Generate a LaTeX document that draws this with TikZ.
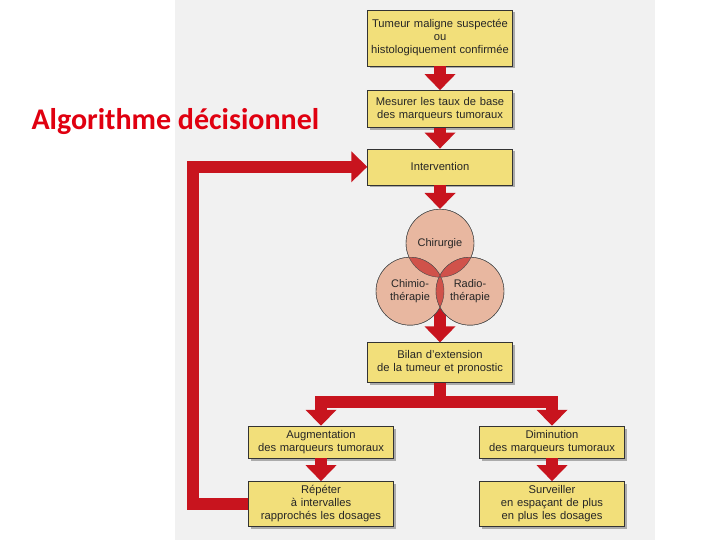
\documentclass[tikz,border=0pt]{standalone}
\usepackage{fontspec}
\setmainfont{Liberation Sans}
\newfontfamily\titlefont{Carlito}
\usetikzlibrary{
  arrows.meta,
  positioning,
  calc,
  shadows,
  backgrounds
}
\definecolor{alred}{HTML}{C8141E}
\definecolor{alyellow}{HTML}{F2DF7A}
\definecolor{alpeach}{HTML}{E8B7A0}
\definecolor{allens}{HTML}{D0524A}
\definecolor{alscan}{HTML}{F1F1F1}
\definecolor{altitle}{HTML}{E00010}

\begin{document}
\begin{tikzpicture}[
  x=1pt, y=-1pt,
  node distance=24pt,
  box/.style={draw=black!80, fill=alyellow, minimum width=145pt, text width=143pt,
    align=center, inner sep=1pt, text=black!85, font=\fontsize{11.2}{13}\selectfont,
    drop shadow={shadow xshift=2.5pt, shadow yshift=-2.5pt, fill=black!60}},
  venn/.style={circle, draw=black!70, fill=alpeach, minimum size=68pt, inner sep=0pt,
    align=center, text=black!85, font=\fontsize{11}{13}\selectfont},
  bar/.style={draw=alred, line width=12pt},
  flow/.style={bar, -{Triangle[width=30pt,length=16pt]}}
]
  \useasboundingbox (0,0) rectangle (720,540);
  \begin{scope}[on background layer]
    \fill[alscan] (175,0) rectangle (655,540);
  \end{scope}

  % Title
  \node[anchor=west, font=\titlefont\bfseries\fontsize{30}{36}\selectfont, text=altitle]
    (title) at (28,122) {Algorithme décisionnel};

  % Main column
  \node[box, minimum height=56pt] (tumeur) at (440,38)
    {Tumeur maligne suspectée\\ou\\histologiquement confirmée};
  \node[box, minimum height=37pt, below=of tumeur] (mesure)
    {Mesurer les taux de base\\des marqueurs tumoraux};
  \node[box, minimum height=36pt, below=21pt of mesure] (interv) {Intervention};

  % Treatments
  \node[venn, below=of interv] (chir) {Chirurgie};
  \node[venn] (chimio) at ($(chir)+(-30,48)$) {Chimio-\\thérapie};
  \node[venn] (radio) at ($(chir)+(30,48)$) {Radio-\\thérapie};
  \begin{scope}
    \clip (chir.center) circle (34pt);
    \fill[allens] (chimio.center) circle (34pt);
    \fill[allens] (radio.center) circle (34pt);
  \end{scope}
  \begin{scope}
    \clip (chimio.center) circle (34pt);
    \fill[allens] (radio.center) circle (34pt);
  \end{scope}
  \foreach \c in {chir, chimio, radio}
    \draw[black!70] (\c.center) circle (34pt);
  \coordinate (vennbot) at ($(chimio.south)!0.5!(radio.south)$);

  \node[box, minimum height=40pt, below=17pt of vennbot] (bilan)
    {Bilan d'extension\\de la tumeur et pronostic};

  % Outcomes
  \node[box, minimum height=32pt, below=43pt of bilan, xshift=-119pt] (augm)
    {Augmentation\\des marqueurs tumoraux};
  \node[box, minimum height=32pt, below=43pt of bilan, xshift=112pt] (dimin)
    {Diminution\\des marqueurs tumoraux};
  \node[box, minimum height=45pt, below=23pt of augm] (repet)
    {Répéter\\à intervalles\\rapprochés les dosages};
  \node[box, minimum height=45pt, below=23pt of dimin] (surv)
    {Surveiller\\en espaçant de plus\\en plus les dosages};

  % Arrows
  \draw[flow] (tumeur) -- (mesure);
  \draw[flow] (mesure) -- (interv);
  \draw[flow] (interv) -- (chir);
  \begin{scope}[on background layer]
    \draw[flow] (chir.center) -- (bilan);
  \end{scope}

  \coordinate (split) at ($(bilan.south)+(0,19)$);
  \draw[bar] (bilan.south) -- (split);
  \draw[bar, {Triangle[width=30pt,length=16pt]}-{Triangle[width=30pt,length=16pt]}]
    (augm.north) -- (augm.north |- split) -- (dimin.north |- split) -- (dimin.north);
  \draw[flow] (augm) -- (repet);
  \draw[flow] (dimin) -- (surv);

  % Loop back
  \draw[flow] (repet.west) -- ++(-55,0) |- (interv.west);

\end{tikzpicture}
\end{document}
